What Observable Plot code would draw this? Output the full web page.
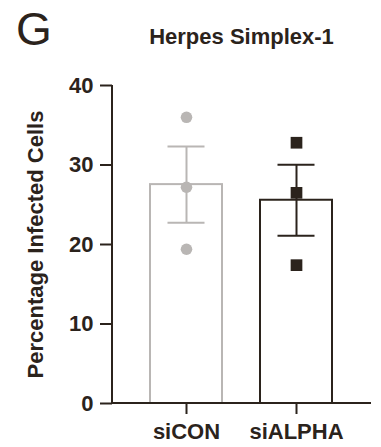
<!DOCTYPE html>
<html>
<head>
<meta charset="utf-8">
<script src="https://cdn.jsdelivr.net/npm/d3@7"></script>
<script src="https://cdn.jsdelivr.net/npm/@observablehq/plot@0.6"></script>
<style>
  body { margin: 0; background: #fff; }
  #fig { position: relative; width: 381px; height: 447px; font-family: "Liberation Sans", Arial, sans-serif; color: #2b231c; }
  #chart { position: absolute; left: 0; top: 0; }
  #panel { position: absolute; left: 16px; top: 6px; font-size: 46px; line-height: 46px; }
  #title { position: absolute; left: 112px; width: 259px; top: 26px; text-align: center; font-size: 22px; line-height: 22px; font-weight: bold; }
</style>
</head>
<body>
<div id="fig">
  <div id="chart"></div>
  <div id="panel">G</div>
  <div id="title">Herpes Simplex-1</div>
</div>
<script>
// Replicate measurements (percentage of infected cells) per condition
const groups = ["siCON", "siALPHA"];
const siCON = [36.0, 27.2, 19.4];
const siALPHA = [32.8, 26.5, 17.4];
const yTicks = [0, 10, 20, 30, 40];
const colors = ["#b9b6b4", "#2b231c"];

const replicates = [siCON, siALPHA];
const points = groups.flatMap((g, i) => replicates[i].map(v => ({group: g, value: v})));

// Mean ± SEM for each condition
const summary = groups.map((g, i) => {
  const v = replicates[i];
  const mean = d3.mean(v);
  const sem = d3.deviation(v) / Math.sqrt(v.length);
  return {group: g, mean, lo: mean - sem, hi: mean + sem};
});

const dark = colors[1];
const textStyle = {fontSize: 22, fontWeight: "bold"};

// Axis lines along the left and bottom edges of the plot frame
function axisLines(index, scales, values, dimensions) {
  const {width, marginLeft, marginRight} = dimensions;
  const [y0, y1] = scales.y.range ? [scales.y(0), scales.y(40)] : [0, 0];
  const g = d3.create("svg:g")
    .attr("stroke", dark)
    .attr("stroke-width", 2)
    .attr("fill", "none");
  g.append("line")
    .attr("x1", marginLeft).attr("x2", marginLeft)
    .attr("y1", y0).attr("y2", y1);
  g.append("line")
    .attr("x1", marginLeft).attr("x2", width - marginRight)
    .attr("y1", y0).attr("y2", y0);
  return g.node();
}

const chart = Plot.plot({
  width: 381,
  height: 447,
  marginLeft: 112,
  marginRight: 10,
  marginTop: 85,
  marginBottom: 44,
  style: {fontFamily: '"Liberation Sans", Arial, sans-serif', color: dark, background: "white"},
  x: {domain: groups, paddingInner: 0.342, paddingOuter: 0.338},
  y: {domain: [0, 40]},
  color: {domain: groups, range: colors},
  marks: [
    Plot.barY(summary, {x: "group", y: "mean", fill: "white", stroke: "group", strokeWidth: 2}),
    Plot.ruleX(summary, {x: "group", y1: "lo", y2: "hi", stroke: "group", strokeWidth: 2}),
    Plot.tickY(summary, {x: "group", y: "hi", stroke: "group", strokeWidth: 2, insetLeft: 17.5, insetRight: 17.5}),
    Plot.tickY(summary, {x: "group", y: "lo", stroke: "group", strokeWidth: 2, insetLeft: 17.5, insetRight: 17.5}),
    Plot.dot(points.filter(d => d.group === "siCON"), {x: "group", y: "value", fill: "group", symbol: "circle", r: 5.8}),
    Plot.dot(points.filter(d => d.group === "siALPHA"), {x: "group", y: "value", fill: "group", symbol: "square", r: 6.6}),
    Plot.axisY({
      ticks: yTicks, tickSize: 12, tickPadding: 7, strokeWidth: 2,
      label: "Percentage Infected Cells", labelAnchor: "center", labelArrow: false, labelOffset: 85,
      ...textStyle
    }),
    Plot.axisX({
      tickSize: 11, tickPadding: 9, strokeWidth: 2, label: null,
      ...textStyle
    }),
    axisLines
  ]
});

document.getElementById("chart").append(chart);
</script>
</body>
</html>
